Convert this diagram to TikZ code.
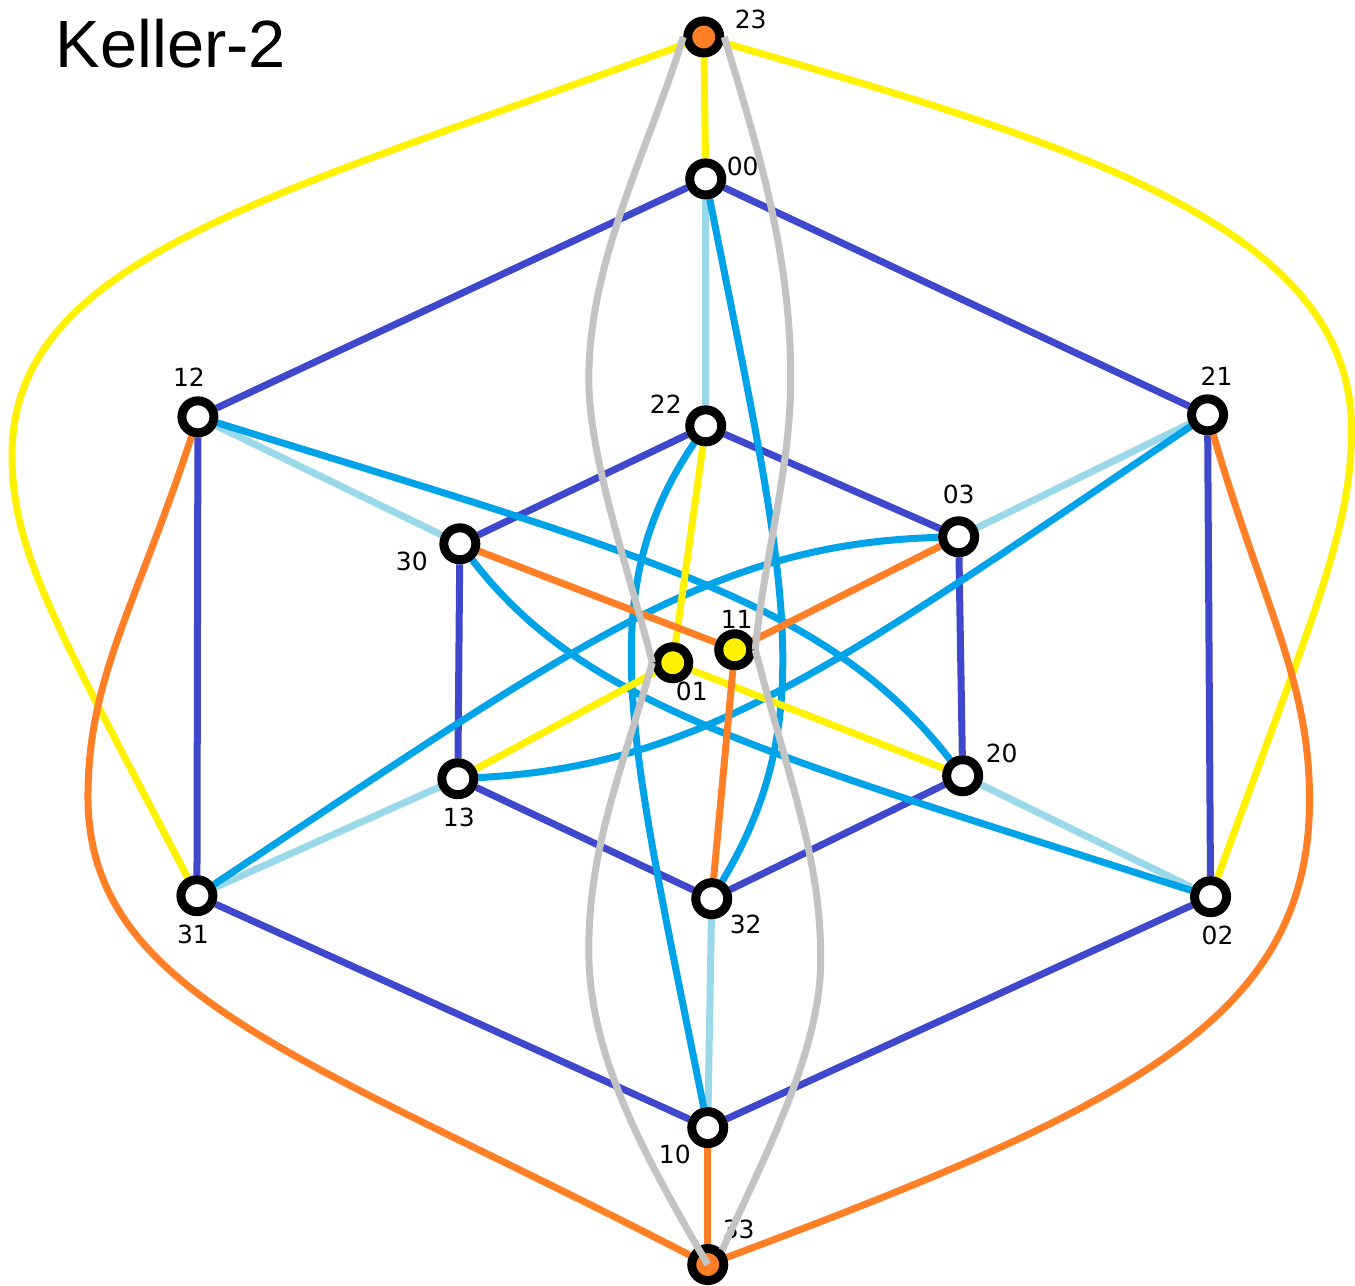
\documentclass[tikz,border=0pt]{standalone}
\usepackage{fontspec}
\setmainfont{DejaVu Sans}
\newfontfamily\titlefont{Liberation Sans}
\pgfdeclarelayer{paper}\pgfdeclarelayer{lab}\pgfdeclarelayer{bg}\pgfdeclarelayer{fg}
\pgfsetlayers{paper,lab,bg,main,fg}
\definecolor{dblue}{RGB}{63,72,204}
\definecolor{lblue}{RGB}{153,217,234}
\definecolor{tq}{RGB}{0,162,232}
\definecolor{yel}{RGB}{255,242,0}
\definecolor{ora}{RGB}{255,127,39}
\definecolor{gry}{RGB}{195,195,195}
\begin{document}
\begin{tikzpicture}[x=0.01cm,y=-0.01cm,
  vtx/.style={circle,draw=black,line width=0.09cm,fill=white,minimum size=0.32cm,inner sep=0pt},
  lbl/.style={font=\fontsize{7.1}{8}\selectfont,inner sep=0pt,text=black},
  edg/.style={line width=0.07cm},
  hexe/.style={edg,draw=dblue},
  spoke/.style={edg,draw=lblue},
  cyane/.style={edg,draw=tq},
  yele/.style={edg,draw=yel},
  orae/.style={edg,draw=ora},
  graye/.style={edg,draw=gry}]
\begin{pgfonlayer}{paper}
\useasboundingbox[fill=white] (0,0) rectangle (1355,1286);
\end{pgfonlayer}

\node[anchor=base west,font=\titlefont\fontsize{19}{22}\selectfont,inner sep=0pt] (title) at (55,68) {Keller-2};

% vertices
\node[vtx,fill=ora] (n23) at (704,37) {};
\node[vtx] (n00) at (706,179) {};
\node[vtx] (n12) at (198,417) {};
\node[vtx] (n21) at (1208,415) {};
\node[vtx] (n22) at (706,426) {};
\node[vtx] (n03) at (959,537) {};
\node[vtx] (n30) at (460,544) {};
\node[vtx,fill=yel] (n11) at (735,650) {};
\node[vtx,fill=yel] (n01) at (673,663) {};
\node[vtx] (n13) at (458,779) {};
\node[vtx] (n20) at (963,776) {};
\node[vtx] (n31) at (197,896) {};
\node[vtx] (n02) at (1211,897) {};
\node[vtx] (n32) at (712,899) {};
\node[vtx] (n10) at (708,1128) {};
\node[vtx,fill=ora] (n33) at (708,1265) {};

\begin{pgfonlayer}{lab}
\node[lbl] (l23) at (751,19) {23};
\node[lbl] (l00) at (743,166) {00};
\node[lbl] (l12) at (189,377) {12};
\node[lbl] (l21) at (1217,376) {21};
\node[lbl] (l22) at (666,404) {22};
\node[lbl] (l03) at (959,495) {03};
\node[lbl] (l30) at (412,562) {30};
\node[lbl] (l11) at (737,620) {11};
\node[lbl] (l01) at (692,692) {01};
\node[lbl] (l13) at (459,818) {13};
\node[lbl] (l20) at (1002,754) {20};
\node[lbl] (l31) at (193,935) {31};
\node[lbl] (l02) at (1218,936) {02};
\node[lbl] (l32) at (746,925) {32};
\node[lbl] (l10) at (675,1155) {10};
\node[lbl] (l33) at (739,1230) {33};
\end{pgfonlayer}

\begin{pgfonlayer}{bg}
% hexagons
\draw[hexe] (n00) -- (n12);
\draw[hexe] (n00) -- (n21);
\draw[hexe] (n12) -- (n31);
\draw[hexe] (n21) -- (n02);
\draw[hexe] (n31) -- (n10);
\draw[hexe] (n02) -- (n10);
\draw[hexe] (n22) -- (n30);
\draw[hexe] (n22) -- (n03);
\draw[hexe] (n30) -- (n13);
\draw[hexe] (n03) -- (n20);
\draw[hexe] (n13) -- (n32);
\draw[hexe] (n20) -- (n32);
% spokes
\draw[spoke] (n00) -- (n22);
\draw[spoke] (n12) -- (n30);
\draw[spoke] (n21) -- (n03);
\draw[spoke] (n31) -- (n13);
\draw[spoke] (n02) -- (n20);
\draw[spoke] (n10) -- (n32);
% turquoise curves
\draw[cyane] (n00) .. controls (784,572) and (823,714) .. (n32);
\draw[cyane] (n12) .. controls (657,559) and (828,603) .. (n20);
\draw[cyane] (n31) .. controls (580,642) and (712,544) .. (n03);
\draw[cyane] (n10) .. controls (630,738) and (591,596) .. (n22);
\draw[cyane] (n02) .. controls (757,751) and (586,707) .. (n30);
\draw[cyane] (n21) .. controls (834,668) and (702,766) .. (n13);
% yellow
\draw[yele] (n23) -- (n00);
\draw[yele] (n01) -- (n22);
\draw[yele] (n01) -- (n13);
\draw[yele] (n01) -- (n20);
\draw[yele] (n23) .. controls (284,194) and (12,255) .. (12,455) .. controls (12,555) and (59,630) .. (n31);
\draw[yele] (n23) .. controls (1089,148) and (1352,230) .. (1352,430) .. controls (1352,530) and (1314,615) .. (n02);
% orange
\draw[orae] (n10) -- (n33);
\draw[orae] (n11) -- (n30);
\draw[orae] (n11) -- (n03);
\draw[orae] (n11) -- (n32);
\draw[orae] (n33) .. controls (309,1058) and (88,997) .. (88,797) .. controls (88,677) and (136,607) .. (n12);
\draw[orae] (n33) .. controls (1129,1107) and (1310,1020) .. (1310,800) .. controls (1310,680) and (1264,607) .. (n21);
\end{pgfonlayer}

\begin{pgfonlayer}{fg}
\draw[graye] (n23.west) .. controls (648,152) and (589,260) .. (589,380) .. controls (589,460) and (633,583) .. (n01.west);
\draw[graye] (n01.west) .. controls (620,777) and (589,850) .. (589,950) .. controls (589,1050) and (637,1144) .. (n33.center);
\draw[graye] (n23.east) .. controls (762,160) and (791,259) .. (791,379) .. controls (791,470) and (764,559) .. (n11.east);
\draw[graye] (n11.east) .. controls (793,793) and (821,860) .. (821,960) .. controls (821,1050) and (768,1150) .. (n33.45);
\end{pgfonlayer}
\end{tikzpicture}
\end{document}
